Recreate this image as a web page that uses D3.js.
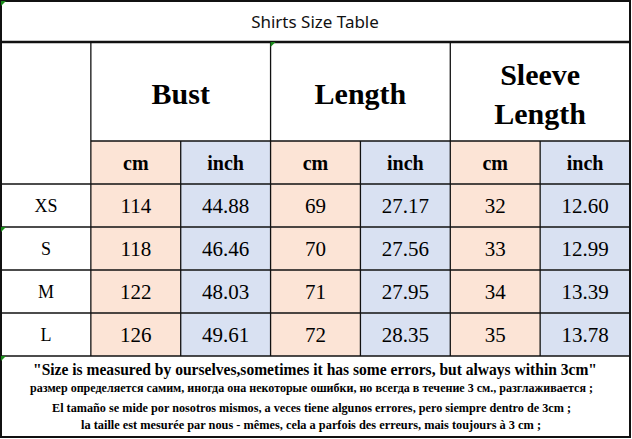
<!DOCTYPE html>
<html>
<head>
<meta charset="utf-8">
<script src="https://cdn.jsdelivr.net/npm/d3@7"></script>
<style>
html,body{margin:0;padding:0;background:#fff;}
svg{display:block;}
</style>
</head>
<body>
<svg id="chart" width="632" height="439"></svg>
<script>
const title = "Shirts Size Table";
const groups = [["Bust"], ["Length"], ["Sleeve", "Length"]];
const units = ["cm", "inch"];
const sizes = ["XS", "S", "M", "L"];
const bustCm = ["114", "118", "122", "126"];
const bustInch = ["44.88", "46.46", "48.03", "49.61"];
const lengthCm = ["69", "70", "71", "72"];
const lengthInch = ["27.17", "27.56", "27.95", "28.35"];
const sleeveCm = ["32", "33", "34", "35"];
const sleeveInch = ["12.60", "12.99", "13.39", "13.78"];
const notes = [
  "\"Size is measured by ourselves,sometimes it has some errors, but always within 3cm\"",
  "размер определяется самим, иногда она некоторые ошибки, но всегда в течение 3 см., разглаживается ;",
  "El tamaño se mide por nosotros mismos, a veces tiene algunos errores, pero siempre dentro de 3cm ;",
  "la taille est mesurée par nous - mêmes, cela a parfois des erreurs, mais toujours à 3 cm ;"
];

const valueCols = [bustCm, bustInch, lengthCm, lengthInch, sleeveCm, sleeveInch];

(function () {
const svg = d3.select("#chart");
const serif = "'Liberation Serif','Times New Roman',serif";
const peach = "#fce4d6", blue = "#d9e1f2", lineCol = "#111";

const colKeys = ["size", 0, 1, 2, 3, 4, 5];
const x = d3.scaleBand().domain(colKeys.map(String)).range([1, 630]);
const y = d3.scaleBand().domain(sizes).range([184, 356]);
const gx = d3.scaleBand().domain(d3.range(3).map(String)).range([x("0"), 630]);

const titleBottom = 42, headBottom = 141, subBottom = 184, tableBottom = 356, bottomY = 437;

valueCols.forEach((col, i) => {
  svg.append("rect")
    .attr("x", x(String(i))).attr("y", headBottom)
    .attr("width", x.bandwidth()).attr("height", tableBottom - headBottom)
    .attr("fill", i % 2 === 0 ? peach : blue);
});

svg.append("text").attr("x", 315).attr("y", 28)
  .attr("text-anchor", "middle")
  .attr("font-family", "'Noto Sans',sans-serif").attr("font-size", 17)
  .attr("fill", "#111").text(title);

groups.forEach((g, i) => {
  const cx = gx(String(i)) + gx.bandwidth() / 2;
  const t = svg.append("text").attr("text-anchor", "middle")
    .attr("font-family", serif).attr("font-weight", "bold").attr("font-size", 30).attr("fill", "#000");
  if (g.length === 1) {
    t.append("tspan").attr("x", cx).attr("y", 104).text(g[0]);
  } else {
    t.append("tspan").attr("x", cx).attr("y", 85).text(g[0]);
    t.append("tspan").attr("x", cx).attr("y", 124).text(g[1]);
  }
});

valueCols.forEach((col, i) => {
  svg.append("text")
    .attr("x", x(String(i)) + x.bandwidth() / 2).attr("y", 170)
    .attr("text-anchor", "middle")
    .attr("font-family", serif).attr("font-weight", "bold").attr("font-size", 20)
    .attr("fill", "#000").text(units[i % 2]);
});

sizes.forEach(s => {
  svg.append("text")
    .attr("x", x("size") + x.bandwidth() / 2).attr("y", y(s) + y.bandwidth() / 2 + 6.5)
    .attr("text-anchor", "middle")
    .attr("font-family", serif).attr("font-size", 18).attr("fill", "#000").text(s);
});

valueCols.forEach((col, i) => {
  col.forEach((v, r) => {
    svg.append("text")
      .attr("x", x(String(i)) + x.bandwidth() / 2).attr("y", y(sizes[r]) + y.bandwidth() / 2 + 7.5)
      .attr("text-anchor", "middle")
      .attr("font-family", serif).attr("font-size", 21).attr("fill", "#000").text(v);
  });
});

const line = (x1, y1, x2, y2, w) => svg.append("line")
  .attr("x1", x1).attr("y1", y1).attr("x2", x2).attr("y2", y2)
  .attr("stroke", lineCol).attr("stroke-width", w);

line(1, titleBottom, 630, titleBottom, 2.5);
line(x("0"), headBottom, 630, headBottom, 1.3);
line(1, subBottom, 630, subBottom, 1.3);
sizes.slice(1).forEach(s => line(1, y(s), 630, y(s), 1.3));
line(1, tableBottom, 630, tableBottom, 1.3);
line(x("0"), titleBottom, x("0"), tableBottom, 1.3);
[1, 3, 5].forEach(i => line(x(String(i)), headBottom, x(String(i)), tableBottom, 1.3));
[1, 2].forEach(i => line(gx(String(i)), titleBottom, gx(String(i)), tableBottom, 1.3));
svg.append("rect").attr("x", 1).attr("y", 1).attr("width", 629).attr("height", bottomY - 1)
  .attr("fill", "none").attr("stroke", lineCol).attr("stroke-width", 2);

const noteY = [375, 392, 412, 429];
const noteSize = [16.5, 12, 13, 13];
const noteSpan = [[33, 597], [30, 593], [52, 571], [81, 541]];
notes.forEach((n, i) => {
  svg.append("text")
    .attr("x", (noteSpan[i][0] + noteSpan[i][1]) / 2).attr("y", noteY[i])
    .attr("text-anchor", "middle")
    .attr("textLength", noteSpan[i][1] - noteSpan[i][0])
    .attr("lengthAdjust", "spacingAndGlyphs")
    .attr("font-family", serif).attr("font-weight", "bold").attr("font-size", noteSize[i])
    .attr("fill", "#000").text(n);
});

[[1, 1], [x("2"), titleBottom], [1, y("S")], [1, tableBottom]].forEach(([px, py]) => {
  svg.append("path")
    .attr("d", `M${px},${py}L${px + 5},${py}L${px},${py + 5}Z`)
    .attr("fill", "#1a8a1a");
});
})();
</script>
</body>
</html>
